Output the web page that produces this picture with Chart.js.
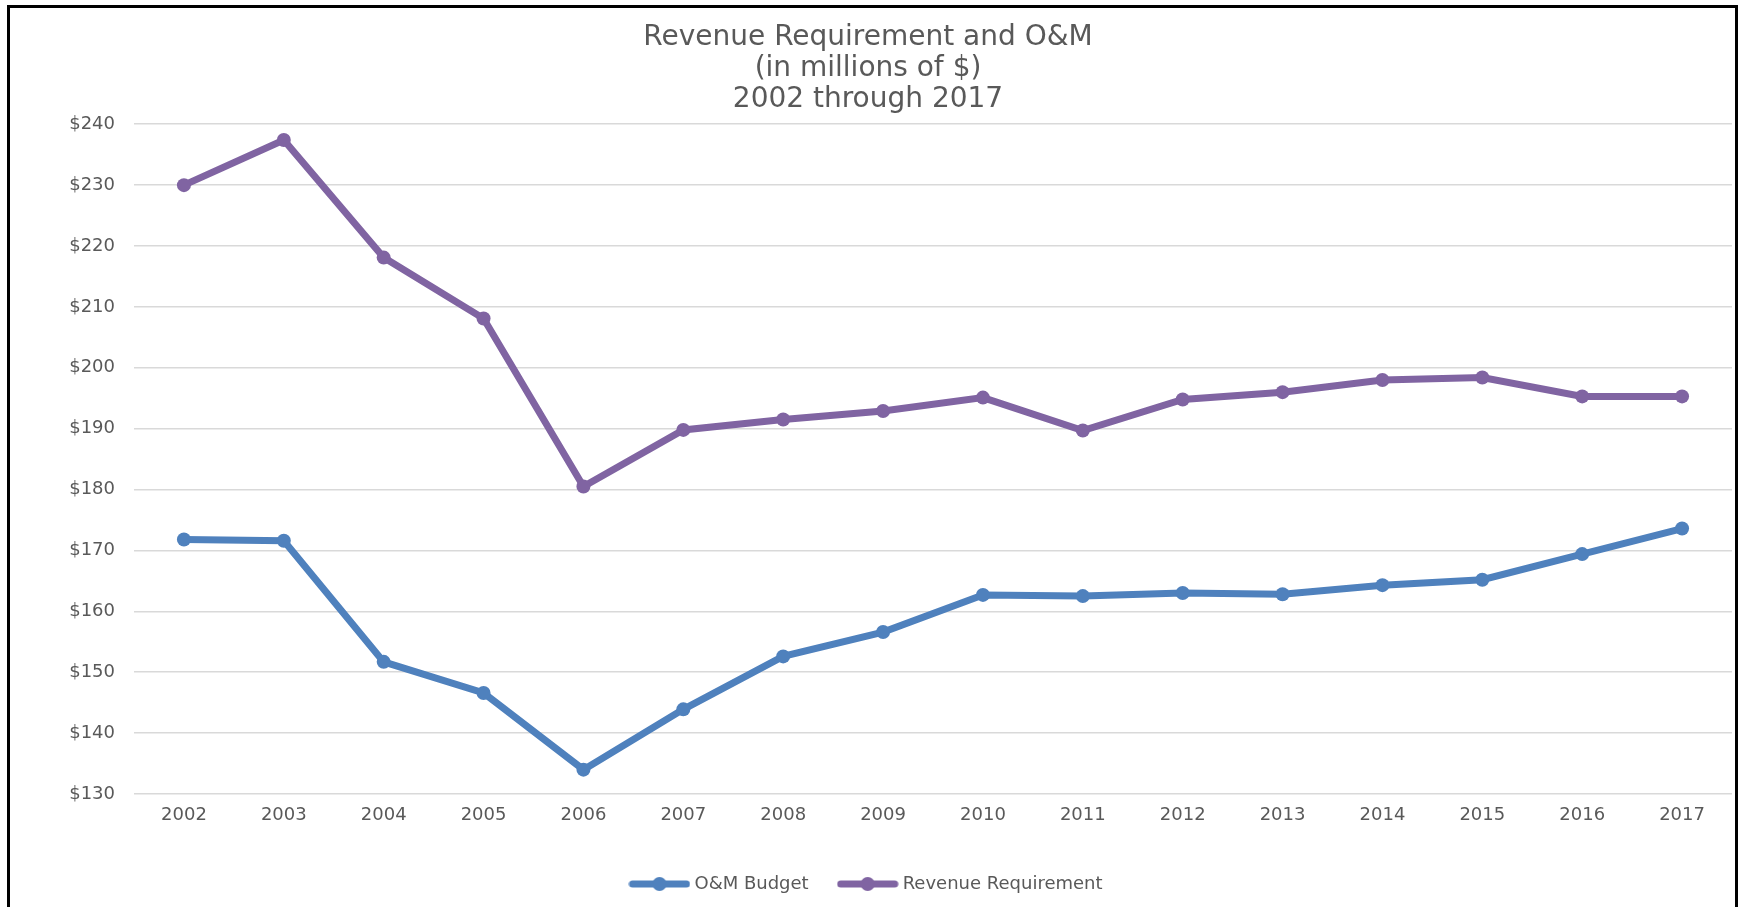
<!DOCTYPE html>
<html>
<head>
<meta charset="utf-8">
<script src="https://cdn.jsdelivr.net/npm/chart.js@4"></script>
<style>
  html, body { margin: 0; padding: 0; background: #fff; }
  #wrap { position: relative; width: 1739px; height: 907px; overflow: hidden; }
  #frame { position: absolute; left: 7px; top: 5px; width: 1725px; height: 920px;
           border: 3px solid #000; pointer-events: none; }
</style>
</head>
<body>
<div id="wrap">
  <canvas id="myChart" width="1739" height="907"></canvas>
  <div id="frame"></div>
</div>
<script>
// Years on the category axis
const years = ["2002", "2003", "2004", "2005", "2006", "2007", "2008", "2009",
  "2010", "2011", "2012", "2013", "2014", "2015", "2016", "2017"];

// Values in millions of dollars
const omBudget = [171.8, 171.6, 151.7, 146.6, 134.0, 143.9, 152.6, 156.6,
  162.7, 162.5, 163.0, 162.8, 164.3, 165.2, 169.4, 173.6];
const revenueRequirement = [230.0, 237.4, 218.1, 208.1, 180.5, 189.8, 191.5, 192.9,
  195.1, 189.7, 194.8, 196.0, 198.0, 198.4, 195.3, 195.3];

const titleLines = ["Revenue Requirement and O&M", "(in millions of $)", "2002 through 2017"];

const blue = "#4F81BD";
const purple = "#8064A2";
const textGray = "#595959";
const font = "'DejaVu Sans', sans-serif";

// little line-with-dot picture for the legend
function legendMark(color) {
  const c = document.createElement("canvas");
  c.width = 62;
  c.height = 18;
  const g = c.getContext("2d");
  g.strokeStyle = color;
  g.lineWidth = 7;
  g.lineCap = "round";
  g.beginPath();
  g.moveTo(4, 9);
  g.lineTo(58, 9);
  g.stroke();
  g.fillStyle = color;
  g.beginPath();
  g.arc(31, 9, 7, 0, Math.PI * 2);
  g.fill();
  return c;
}
const marks = [legendMark(blue), legendMark(purple)];

const data = {
  labels: years,
  datasets: [
    {
      label: "O&M Budget",
      data: omBudget,
      borderColor: blue,
      backgroundColor: blue,
      borderWidth: 7,
      pointRadius: 7,
      pointHoverRadius: 7,
      pointBorderWidth: 0,
    },
    {
      label: "Revenue Requirement",
      data: revenueRequirement,
      borderColor: purple,
      backgroundColor: purple,
      borderWidth: 7,
      pointRadius: 7,
      pointHoverRadius: 7,
      pointBorderWidth: 0,
    },
  ],
};

const config = {
  type: "line",
  data: data,
  options: {
    responsive: false,
    animation: false,
    layout: { padding: { top: 22, left: 0, right: 3, bottom: 4 } },
    plugins: {
      tooltip: { enabled: false },
      title: {
        display: true,
        text: titleLines,
        color: textGray,
        font: { family: font, size: 28, weight: "normal", lineHeight: 1.11 },
        padding: { top: 0, bottom: 9 },
      },
      legend: {
        position: "bottom",
        labels: {
          usePointStyle: true,
          pointStyleWidth: 52,
          boxHeight: 14,
          padding: 33,
          color: textGray,
          font: { family: font, size: 18 },
          generateLabels(chart) {
            const items = Chart.defaults.plugins.legend.labels.generateLabels(chart);
            items.forEach((it, i) => { it.pointStyle = marks[i]; });
            return items;
          },
        },
      },
    },
    scales: {
      x: {
        offset: true,
        grid: { display: false },
        border: { display: false },
        ticks: { color: textGray, padding: 3, font: { family: font, size: 18 }, maxRotation: 0 },
        afterFit(scale) { scale.height = 48; },
      },
      y: {
        min: 130,
        max: 240,
        ticks: {
          stepSize: 10,
          color: textGray,
          padding: 19,
          font: { family: font, size: 18 },
          callback: (v) => "$" + v,
        },
        grid: { color: "#d9d9d9", lineWidth: 1.5, drawTicks: false },
        border: { display: false },
        afterFit(scale) { scale.width = 134; },
      },
    },
  },
};

const myChart = new Chart(document.getElementById("myChart"), config);
</script>
</body>
</html>
